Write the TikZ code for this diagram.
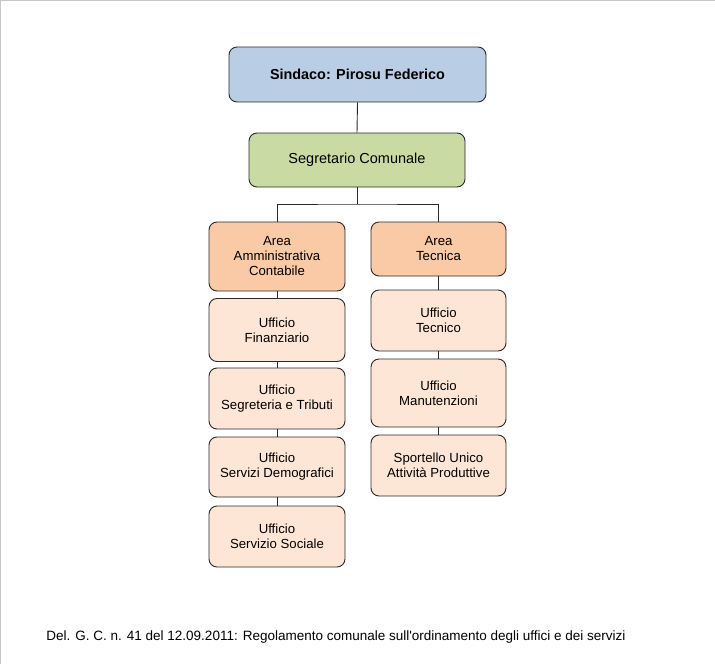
\documentclass[tikz,border=0pt]{standalone}
\usepackage{fontspec}
\setmainfont{Liberation Sans}
\newfontfamily\plainfont{Liberation Sans}[Ligatures=TeXOff]
\definecolor{sindfill}{HTML}{B9CDE5}
\definecolor{segrfill}{HTML}{C9DBA2}
\definecolor{areafill}{HTML}{FAC9A6}
\definecolor{uffill}{HTML}{FDE6D6}
\definecolor{edge}{HTML}{2A2A2A}
\begin{document}
\begin{tikzpicture}[x=1pt,y=-1pt,
  box/.style={draw=edge,line width=0.9pt,rounded corners=8pt,inner sep=0pt,align=center,anchor=center,text=black},
  sindbox/.style={box,fill=sindfill,font=\fontsize{14.4}{16}\selectfont\bfseries},
  segrbox/.style={box,fill=segrfill,font=\fontsize{14.5}{16}\selectfont},
  areabox/.style={box,fill=areafill,font=\fontsize{13.2}{15}\selectfont},
  ufbox/.style={box,fill=uffill,font=\fontsize{13.2}{15}\selectfont},
  link/.style={draw=edge,line width=0.9pt}]
\useasboundingbox (0,0) rectangle (715,664);
\fill[white] (0,0) rectangle (715,664);
\draw[gray!45,line width=1pt] (0.5,664) -- (0.5,0.5) -- (715,0.5);

\node[sindbox,minimum width=257pt,minimum height=55pt] (sind) at (357.5,74.5) {Sindaco: Pirosu Federico};
\node[segrbox,minimum width=216pt,minimum height=54pt] (segr) at (357,160) {Segretario Comunale};

\node[areabox,minimum width=136pt,minimum height=69pt] (aac) at (277,256.5) {Area\\Amministrativa\\Contabile};
\node[areabox,minimum width=135pt,minimum height=54pt] (at) at (438.5,249) {Area\\Tecnica};

\node[ufbox,minimum width=136pt,minimum height=63pt] (uf) at (277,330) {Ufficio\\Finanziario};
\node[ufbox,minimum width=136pt,minimum height=61pt] (ust) at (277,398.5) {Ufficio\\Segreteria e Tributi};
\node[ufbox,minimum width=136pt,minimum height=60pt] (usd) at (277,467) {Ufficio\\Servizi Demografici};
\node[ufbox,minimum width=136pt,minimum height=61pt] (uss) at (277,536.5) {Ufficio\\Servizio Sociale};

\node[ufbox,minimum width=135pt,minimum height=61pt] (ut) at (438.5,320.5) {Ufficio\\Tecnico};
\node[ufbox,minimum width=135pt,minimum height=68pt] (um) at (438.5,393) {Ufficio\\Manutenzioni};
\node[ufbox,minimum width=135pt,minimum height=61pt] (sp) at (438.5,465.5) {Sportello Unico\\Attività Produttive};

\coordinate (bar) at (357,204);
\draw[link] (sind.south) -- (segr.north);
\draw[link] (segr.south) -- (bar);
\draw[link] (aac.north) |- (bar) -| (at.north);
\draw[link] (aac.south) -- (uf.north);
\draw[link] (uf.south) -- (ust.north);
\draw[link] (ust.south) -- (usd.north);
\draw[link] (usd.south) -- (uss.north);
\draw[link] (at.south) -- (ut.north);
\draw[link] (ut.south) -- (um.north);
\draw[link] (um.south) -- (sp.north);

\node[inner sep=0pt,font=\plainfont\fontsize{13.5}{15}\selectfont] (foot) at (336,637) {Del. G. C. n. 41 del 12.09.2011: Regolamento comunale sull'ordinamento degli uffici e dei servizi};
\end{tikzpicture}
\end{document}
